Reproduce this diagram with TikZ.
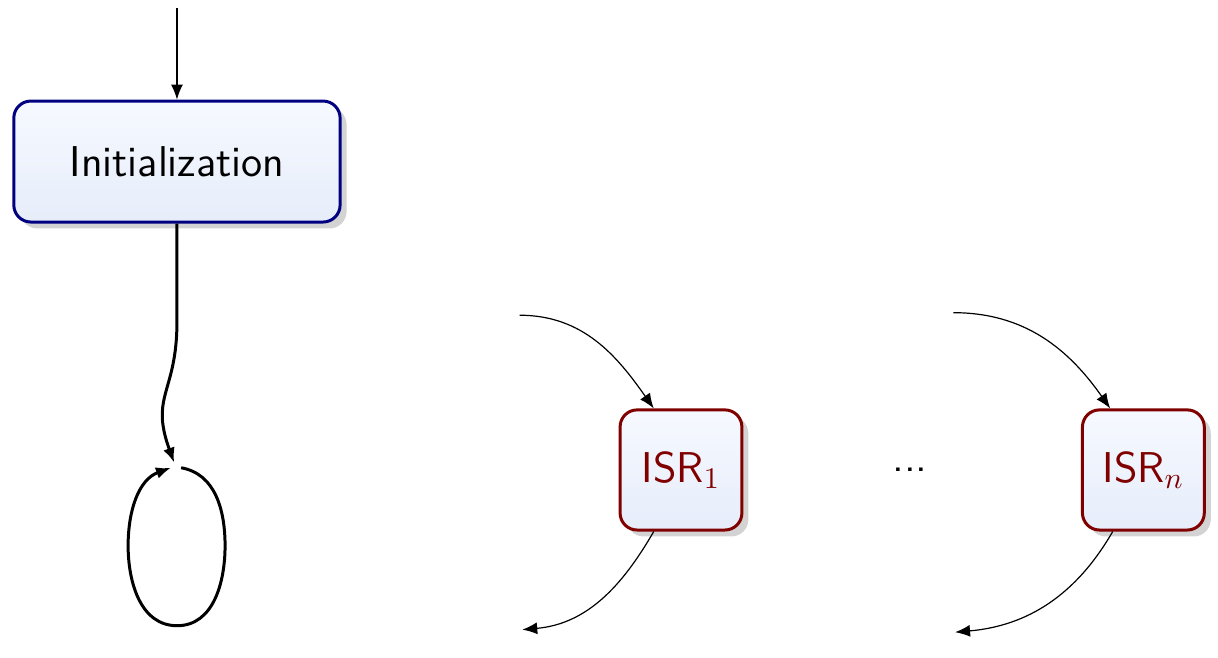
\documentclass[tikz,border=0pt]{standalone}
\usetikzlibrary{shadows,arrows.meta}
\definecolor{boxtop}{RGB}{246,249,255}
\definecolor{boxbottom}{RGB}{230,237,250}
\tikzset{
  task/.style={draw=blue!50!black, line width=1pt, rounded corners=0.2cm,
    top color=boxtop, bottom color=boxbottom, drop shadow={opacity=0.35},
    font=\sffamily\Large, minimum width=3.83cm, minimum height=1.42cm},
  isr/.style={task, draw=red!50!black, text=red!50!black,
    minimum width=1.43cm, minimum height=1.41cm},
  idle/.style={inner sep=1.5pt}
}
\begin{document}
\begin{tikzpicture}[>={Latex[length=5pt,width=4pt]}]
	\useasboundingbox (0,0) rectangle (14.296,-7.723);
	\node[task] (init) at (2.077,-1.896) {Initialization};
	\node[idle] (idle) at (2.066,-5.49) {};
	\node[isr] (isr1) at (7.993,-5.516) {ISR$_1$};
	\node[font=\sffamily\Large] (dots) at (10.68,-5.516) {...};
	\node[isr] (isrn) at (13.42,-5.516) {ISR$_n$};
	\coordinate (reset) at (2.077,-0.094);
	\coordinate (in1) at (6.10,-3.70);
	\coordinate (out1) at (6.13,-7.39);
	\coordinate (inn) at (11.19,-3.67);
	\coordinate (outn) at (11.21,-7.42);
	% main loop
	\draw[->] (reset) -- (init);
	\draw[->, line width=1pt] (init.south) -- ++(0,-1.15) to[out=-90,in=110,looseness=1.3] (idle);
	\draw[->, line width=1pt] (idle.east) to[out=-10,in=90] ++(0.516,-0.915)
		to[out=-90,in=0] ++(-0.563,-0.939) to[out=180,in=-90] ++(-0.575,0.939)
		to[out=90,in=200] (idle.west);
	% interrupts
	\draw[->] (in1) to[out=0,in=125] ([xshift=-0.32cm]isr1.north);
	\draw[->] ([xshift=-0.32cm]isr1.south) to[out=-120,in=5] (out1);
	\draw[->] (inn) to[out=0,in=125] ([xshift=-0.39cm]isrn.north);
	\draw[->] ([xshift=-0.36cm]isrn.south) to[out=-120,in=5] (outn);
\end{tikzpicture}
\end{document}
